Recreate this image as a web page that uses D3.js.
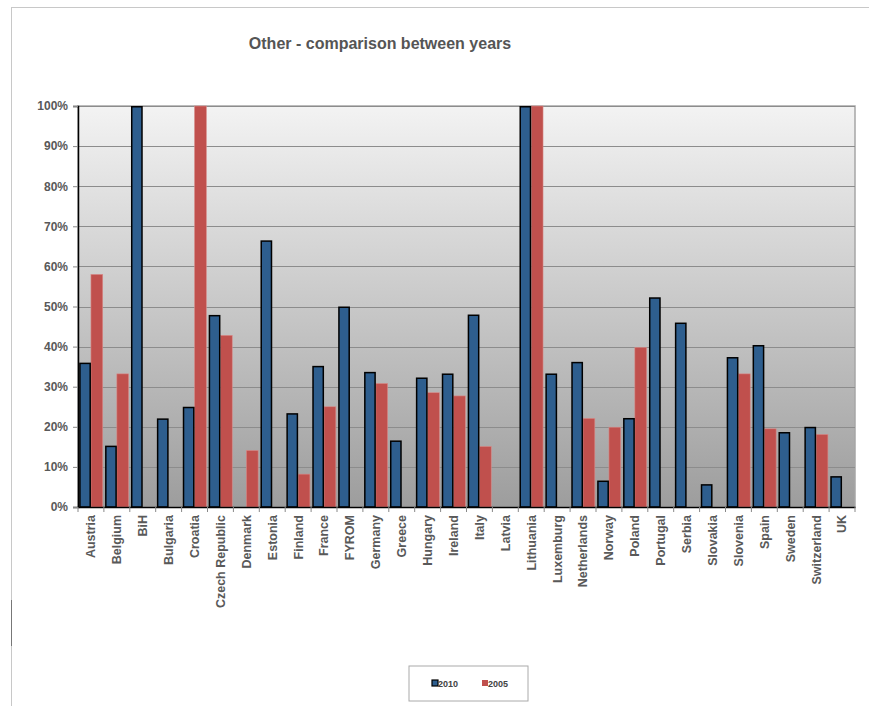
<!DOCTYPE html>
<html>
<head>
<meta charset="utf-8">
<script src="https://cdn.jsdelivr.net/npm/d3@7"></script>
<style>
  html, body { margin: 0; padding: 0; background: #fff; }
  svg { display: block; }
</style>
</head>
<body>
<svg id="chart" width="869" height="706"></svg>
<script>
const countries = ["Austria","Belgium","BiH","Bulgaria","Croatia","Czech Republic","Denmark","Estonia","Finland","France","FYROM","Germany","Greece","Hungary","Ireland","Italy","Latvia","Lithuania","Luxemburg","Netherlands","Norway","Poland","Portugal","Serbia","Slovakia","Slovenia","Spain","Sweden","Switzerland","UK"];
const values2010 = [36.0,15.3,100,22.1,25.0,47.9,0,66.5,23.4,35.2,50.0,33.7,16.6,32.3,33.3,48.0,0,100,33.3,36.2,6.6,22.2,52.3,46.0,5.7,37.4,40.4,18.7,20.0,7.7];
const values2005 = [58.0,33.2,0,0,100,42.8,14.1,0,8.2,25.0,0,30.8,0,28.5,27.7,15.1,0,100,0,22.1,19.9,39.8,0,0,0,33.2,19.5,0,18.1,0];
const years = ["2010","2005"];
const yTicks = [0,10,20,30,40,50,60,70,80,90,100];
const title = "Other - comparison between years";

(function () {
const colors = {"2010": "#2E5E8E", "2005": "#C0504D"};
const svg = d3.select("#chart");
const font = "Arial, 'Liberation Sans', sans-serif";

// page frame
svg.append("line").attr("x1", 11).attr("x2", 869).attr("y1", 7.5).attr("y2", 7.5).attr("stroke", "#c8c8c8");
svg.append("line").attr("x1", 11.5).attr("x2", 11.5).attr("y1", 7).attr("y2", 706).attr("stroke", "#c8c8c8");
svg.append("line").attr("x1", 11.5).attr("x2", 11.5).attr("y1", 600).attr("y2", 646).attr("stroke", "#777");

const pLeft = 78, pRight = 855, pTop = 106, pBottom = 507;

const x = d3.scaleBand().domain(countries).range([pLeft, pRight]).paddingInner(0).paddingOuter(0);
const x1 = d3.scaleBand().domain(years).range([0, x.bandwidth()]).paddingInner(0).paddingOuter(0.1);
const y = d3.scaleLinear().domain([0, 100]).range([pBottom, pTop]);

// gradient background
const defs = svg.append("defs");
const grad = defs.append("linearGradient").attr("id", "bg").attr("x1", 0).attr("x2", 0).attr("y1", 0).attr("y2", 1);
grad.append("stop").attr("offset", "0%").attr("stop-color", "#f3f3f3");
grad.append("stop").attr("offset", "100%").attr("stop-color", "#9d9d9d");
svg.append("rect").attr("x", pLeft).attr("y", pTop).attr("width", pRight - pLeft).attr("height", pBottom - pTop)
  .attr("fill", "url(#bg)").attr("stroke", "#a6a6a6").attr("stroke-width", 1.5);

// gridlines
svg.append("g").selectAll("line").data(yTicks.filter(d => d > 0)).join("line")
  .attr("x1", pLeft).attr("x2", pRight)
  .attr("y1", d => Math.round(y(d)) + 0.5).attr("y2", d => Math.round(y(d)) + 0.5)
  .attr("stroke", "#8c8c8c").attr("stroke-width", 1);

// title
svg.append("text").attr("x", 380).attr("y", 49).attr("text-anchor", "middle")
  .attr("font-family", font).attr("font-size", 16).attr("font-weight", "bold").attr("fill", "#555")
  .text(title);

// bars
const groups = svg.append("g").selectAll("g").data(countries).join("g")
  .attr("transform", d => `translate(${x(d)},0)`);

groups.append("rect")
  .attr("x", x1("2005"))
  .attr("y", (d, i) => y(values2005[i]))
  .attr("width", x1.bandwidth())
  .attr("height", (d, i) => pBottom - y(values2005[i]))
  .attr("fill", colors["2005"])
  .attr("stroke", "#d88a88").attr("stroke-width", 0.6)
  .attr("display", (d, i) => values2005[i] > 0 ? null : "none");

groups.append("rect")
  .attr("x", x1("2010") + 0.75)
  .attr("y", (d, i) => y(values2010[i]) + 0.75)
  .attr("width", x1.bandwidth() - 1.5)
  .attr("height", (d, i) => Math.max(0, pBottom - y(values2010[i]) - 0.75))
  .attr("fill", colors["2010"])
  .attr("stroke", "#000").attr("stroke-width", 1.5)
  .attr("display", (d, i) => values2010[i] > 0 ? null : "none");

// y axis
const yAxis = d3.axisLeft(y).tickValues(yTicks).tickFormat(d => d + "%").tickSize(5).tickPadding(5);
const gy = svg.append("g").attr("transform", `translate(${pLeft},0)`).call(yAxis);
gy.select(".domain").attr("stroke", "#000").attr("stroke-width", 1.5);
gy.selectAll(".tick line").attr("stroke", "#888");
gy.selectAll(".tick text").attr("font-family", font).attr("font-size", 12).attr("font-weight", "bold").attr("fill", "#595959");

// x axis
const xAxis = d3.axisBottom(x).tickSize(0).tickFormat(d => d);
const gx = svg.append("g").attr("transform", `translate(0,${pBottom})`).call(xAxis);
gx.select(".domain").attr("stroke", "#000").attr("stroke-width", 1.5);
gx.selectAll(".tick text")
  .attr("font-family", font).attr("font-size", 12.5).attr("font-weight", "bold").attr("fill", "#595959")
  .attr("transform", "rotate(-90)")
  .attr("text-anchor", "end")
  .attr("x", -8).attr("y", 0).attr("dy", "0.35em");
gx.append("g").selectAll("line").data(d3.range(countries.length + 1)).join("line")
  .attr("x1", i => pLeft + i * x.step()).attr("x2", i => pLeft + i * x.step())
  .attr("y1", 0).attr("y2", 5).attr("stroke", "#888");

// legend
const lg = svg.append("g").attr("transform", "translate(409,666)");
lg.append("rect").attr("width", 119).attr("height", 35).attr("fill", "#fff").attr("stroke", "#aaa");
const items = lg.selectAll("g").data(years).join("g")
  .attr("transform", (d, i) => `translate(${23 + i * 50},14)`);
items.append("rect").attr("width", 6).attr("height", 6)
  .attr("fill", d => colors[d]).attr("stroke", d => d === "2010" ? "#000" : "none").attr("stroke-width", 1.2);
items.append("text").attr("x", 6).attr("y", 6.5)
  .attr("font-family", font).attr("font-size", 9).attr("font-weight", "bold").attr("fill", "#444")
  .text(d => d);
})();
</script>
</body>
</html>
